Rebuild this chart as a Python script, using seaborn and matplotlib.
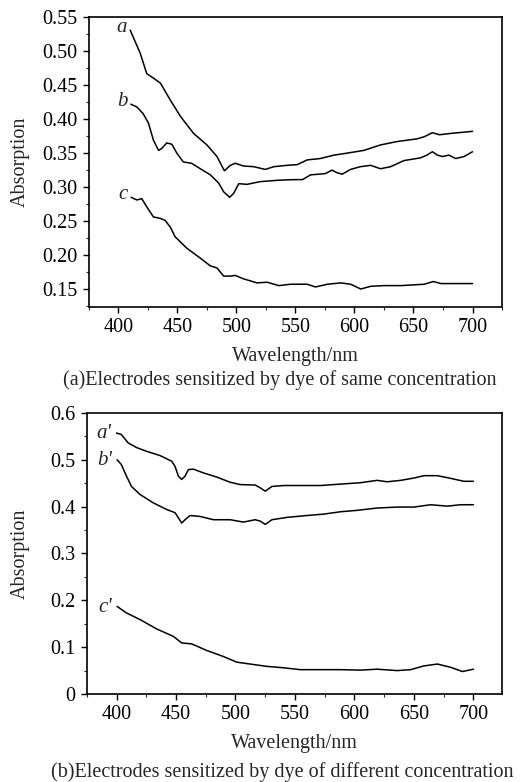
import seaborn as sns
import matplotlib.pyplot as plt
from matplotlib.ticker import MultipleLocator
import pandas as pd

# (a) same concentration
wl_a = [410, 418.5, 424, 430, 435.6, 444, 452.6, 463.7, 475, 483.5, 489.8, 494.8, 499, 506, 514.6,
        524.5, 531.6, 542.9, 551.4, 560, 571, 582.6, 593.9, 608, 622, 636, 653, 659, 666, 672, 681.7, 700]
abs_a = [0.531, 0.497, 0.467, 0.460, 0.453, 0.428, 0.404, 0.379, 0.362, 0.345, 0.324, 0.332, 0.335, 0.331, 0.330,
         0.326, 0.330, 0.332, 0.333, 0.340, 0.342, 0.347, 0.350, 0.354, 0.362, 0.367, 0.371, 0.374, 0.380, 0.377, 0.379, 0.382]

wl_b = [410.5, 415.6, 421, 425.5, 429.7, 434, 436.8, 441, 445.3, 449.5, 455, 462, 469.4, 477.9, 484.9, 489.2,
        494.3, 497.7, 502, 509, 520, 534.9, 548.6, 556, 562.8, 570, 575.6, 581, 585.4, 589.6, 596.7, 605,
        613.6, 622, 630.6, 641.9, 656, 661.3, 666, 670.3, 674.5, 680, 685.8, 692.9, 700]
abs_b = [0.422, 0.418, 0.408, 0.394, 0.369, 0.354, 0.357, 0.365, 0.363, 0.350, 0.337, 0.335, 0.327, 0.318, 0.306, 0.293,
         0.285, 0.291, 0.305, 0.304, 0.308, 0.310, 0.311, 0.311, 0.318, 0.319, 0.320, 0.325, 0.321, 0.319, 0.326, 0.330,
         0.332, 0.327, 0.330, 0.339, 0.343, 0.347, 0.352, 0.347, 0.345, 0.347, 0.342, 0.345, 0.352]

wl_c = [410.8, 415.6, 419.8, 424, 429.7, 435.4, 439.6, 444, 448, 458, 469, 477.9, 483.5, 489.2, 494.8, 499,
        506, 517.4, 526, 535.9, 545.7, 560, 567, 577, 588.4, 596.8, 605.3, 613.8, 625, 639.5, 659, 666.8, 673.4, 700]
abs_c = [0.285, 0.281, 0.283, 0.271, 0.256, 0.254, 0.251, 0.241, 0.227, 0.210, 0.196, 0.184, 0.181, 0.169, 0.169, 0.170,
         0.165, 0.159, 0.160, 0.155, 0.157, 0.157, 0.153, 0.157, 0.159, 0.157, 0.150, 0.154, 0.155, 0.155, 0.157, 0.161, 0.158, 0.158]

# (b) different concentration
wl_a2 = [400, 404, 409.8, 416.9, 425.3, 436.5, 446.3, 449.2, 452, 454.8, 457.6, 460.4, 464.6, 473, 484.3, 495.5,
         504, 516.6, 520.8, 525, 530.6, 540.4, 554.5, 571.3, 588.2, 605, 619, 627.5, 638.8, 650, 658.4, 669.7,
         679.5, 692, 700]
abs_a2 = [0.557, 0.554, 0.536, 0.526, 0.518, 0.509, 0.497, 0.486, 0.465, 0.458, 0.465, 0.479, 0.480, 0.472, 0.463, 0.452,
          0.447, 0.446, 0.440, 0.433, 0.443, 0.445, 0.445, 0.445, 0.448, 0.451, 0.456, 0.453, 0.456, 0.461, 0.466, 0.466,
          0.461, 0.454, 0.454]

wl_b2 = [400.5, 404, 408.4, 412.6, 419.7, 430.9, 442, 449.2, 452, 454.8, 457.6, 461.8, 470.2, 481.5, 495.5, 506.7,
         516.6, 520.8, 525, 530.6, 543.3, 560.1, 574.2, 588.2, 602.2, 619.1, 636, 650, 664, 678, 689.3, 700]
abs_b2 = [0.500, 0.490, 0.465, 0.443, 0.426, 0.408, 0.394, 0.387, 0.376, 0.365, 0.372, 0.381, 0.379, 0.372, 0.372, 0.367,
          0.372, 0.369, 0.362, 0.372, 0.377, 0.381, 0.384, 0.389, 0.392, 0.397, 0.399, 0.399, 0.404, 0.401, 0.404, 0.404]

wl_c2 = [400.5, 408.4, 419.7, 433.7, 447.8, 454.8, 463.2, 475.8, 489.9, 501.1, 515.2, 526.4, 540.4, 554.5, 571.3,
         588.2, 605, 619.1, 636, 647.2, 658.4, 669.7, 680.9, 690.7, 700]
abs_c2 = [0.187, 0.173, 0.159, 0.139, 0.123, 0.109, 0.107, 0.093, 0.080, 0.068, 0.063, 0.059, 0.056, 0.052, 0.052,
          0.052, 0.051, 0.053, 0.050, 0.052, 0.060, 0.064, 0.057, 0.048, 0.053]

labels_top = ["a", "b", "c"]
labels_bot = ["a'", "b'", "c'"]

sns.set_style("ticks")
plt.rcParams['font.family'] = ['Liberation Serif', 'DejaVu Serif']

fig = plt.figure(figsize=(5.29, 7.82), dpi=100)
ax1 = fig.add_axes([0.168, 0.6074, 0.781, 0.3706])
ax2 = fig.add_axes([0.164, 0.1125, 0.785, 0.3595])

for wl, ab in [(wl_a, abs_a), (wl_b, abs_b), (wl_c, abs_c)]:
    sns.lineplot(x=wl, y=ab, ax=ax1, color='black', lw=1.1)
for wl, ab in [(wl_a2, abs_a2), (wl_b2, abs_b2), (wl_c2, abs_c2)]:
    sns.lineplot(x=wl, y=ab, ax=ax2, color='black', lw=1.1)

# curve labels
for lab, wl, ab in zip(labels_top, [wl_a, wl_b, wl_c], [abs_a, abs_b, abs_c]):
    ax1.text(wl[0] - 3, ab[0] + 0.004, lab, style='italic', fontsize=15, ha='right', va='center')
for lab, wl, ab in zip(labels_bot, [wl_a2, wl_b2, wl_c2], [abs_a2, abs_b2, abs_c2]):
    ax2.text(wl[0] - 4, ab[0] - 0.002, lab, style='italic', fontsize=15, ha='right', va='center')

ax1.set_xlim(375, 725)
ax1.set_ylim(0.1235, 0.55)
ax1.set_yticks([0.15, 0.20, 0.25, 0.30, 0.35, 0.40, 0.45, 0.50, 0.55])
ax1.set_yticklabels(['0.15', '0.20', '0.25', '0.30', '0.35', '0.40', '0.45', '0.50', '0.55'])
ax1.yaxis.set_minor_locator(MultipleLocator(0.025))

ax2.set_xlim(375, 724)
ax2.set_ylim(0, 0.6)
ax2.set_yticks([0, 0.1, 0.2, 0.3, 0.4, 0.5, 0.6])
ax2.set_yticklabels(['0', '0.1', '0.2', '0.3', '0.4', '0.5', '0.6'])
ax2.yaxis.set_minor_locator(MultipleLocator(0.05))

for ax in (ax1, ax2):
    ax.set_xticks([400, 450, 500, 550, 600, 650, 700])
    ax.xaxis.set_minor_locator(MultipleLocator(25))
    ax.tick_params(which='major', direction='out', length=4, width=1, labelsize=14.5, pad=4, colors='black')
    ax.tick_params(which='minor', direction='out', length=2, width=0.8)
    for s in ax.spines.values():
        s.set_linewidth(1.2)
        s.set_color('black')
    ax.set_xlabel('Wavelength/nm', fontsize=14.5, labelpad=7)
    ax.set_ylabel('Absorption', fontsize=14.5)

ax1.yaxis.set_label_coords(-0.142, 0.5)
ax2.yaxis.set_label_coords(-0.137, 0.5)

fig.text(0.528, 0.514, '(a)Electrodes sensitized by dye of same concentration', ha='center', va='center', fontsize=14.5)
fig.text(0.533, 0.013, '(b)Electrodes sensitized by dye of different concentration', ha='center', va='center', fontsize=14.5)

fig.savefig('out.png', dpi=100)
